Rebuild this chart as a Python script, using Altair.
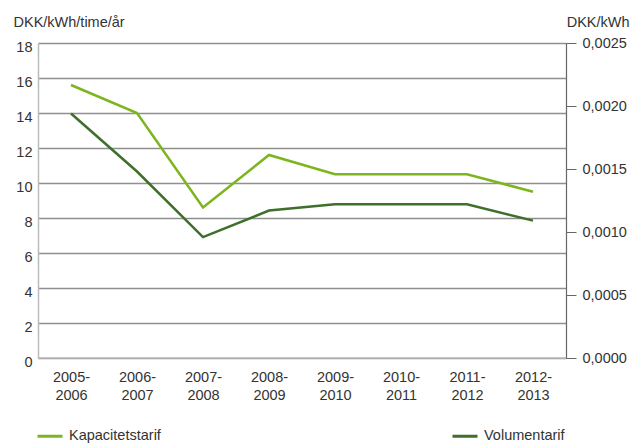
import altair as alt
import pandas as pd

periods = ["2005-2006", "2006-2007", "2007-2008", "2008-2009",
           "2009-2010", "2010-2011", "2011-2012", "2012-2013"]
kapacitet = [15.6, 14.0, 8.6, 11.6, 10.5, 10.5, 10.5, 9.5]
volumen = [0.00194, 0.00148, 0.00096, 0.00117, 0.00122, 0.00122, 0.00122, 0.00109]

series_names = ["Kapacitetstarif", "Volumentarif"]
series_colors = ["#7db51f", "#3e6f2b"]

df_k = pd.DataFrame({"periode": periods, "værdi": kapacitet, "serie": series_names[0]})
df_v = pd.DataFrame({"periode": periods, "værdi": volumen, "serie": series_names[1]})

FONT = "Liberation Sans"
FS = 14.5
TXT = "#333333"

x_enc = alt.X("periode:N", sort=periods, title=None,
              scale=alt.Scale(paddingInner=0, paddingOuter=0.5),
              axis=alt.Axis(labelAngle=0,
                            labelExpr="[split(datum.label, '-')[0] + '-', split(datum.label, '-')[1]]",
                            labelFontSize=FS, labelColor=TXT, labelFont=FONT,
                            labelPadding=12, labelLineHeight=18,
                            ticks=False, domain=False, grid=False))

color_enc = alt.Color("serie:N", scale=alt.Scale(domain=series_names, range=series_colors),
                      legend=alt.Legend(orient="none", legendX=-2, legendY=379,
                                        direction="horizontal", title=None,
                                        symbolType="stroke", symbolStrokeWidth=3,
                                        symbolSize=625, labelFontSize=FS, labelFont=FONT,
                                        labelColor=TXT, columnPadding=285,
                                        labelOffset=5, padding=0))

left = alt.Chart(df_k).mark_line(strokeWidth=2.5).encode(
    x=x_enc,
    y=alt.Y("værdi:Q", scale=alt.Scale(domain=[0, 18]),
            axis=alt.Axis(orient="left", values=list(range(0, 19, 2)),
                          title="DKK/kWh/time/år", titleAngle=0, titleX=-25, titleY=-21,
                          titleAlign="left", titleBaseline="middle",
                          titleFontWeight="normal", titleFontSize=FS,
                          titleFont=FONT, titleColor=TXT,
                          labelFontSize=FS, labelFont=FONT, labelColor=TXT,
                          labelPadding=6, labelOffset=4, ticks=False,
                          domainColor="#bbbbbb", domainWidth=1.5,
                          grid=True, gridColor="#8f8f8f", gridWidth=1.3)),
    color=color_enc,
)

right = alt.Chart(df_v).mark_line(strokeWidth=2.5).encode(
    x=x_enc,
    y=alt.Y("værdi:Q", scale=alt.Scale(domain=[0, 0.0025]),
            axis=alt.Axis(orient="right", values=[0, 0.0005, 0.001, 0.0015, 0.002, 0.0025],
                          labelExpr="replace(format(datum.value, '.4f'), '.', ',')",
                          title="DKK/kWh", titleAngle=0, titleX=63, titleY=-21,
                          titleAlign="right", titleBaseline="middle",
                          titleFontWeight="normal", titleFontSize=FS,
                          titleFont=FONT, titleColor=TXT,
                          labelFontSize=FS, labelFont=FONT, labelColor=TXT,
                          labelPadding=6, tickSize=10, tickColor="#666666",
                          domainColor="#666666", domainWidth=1.2, grid=False)),
    color=color_enc,
)

bottom_line = alt.Chart(pd.DataFrame({"v": [0]})).mark_rule(color="#bbbbbb", strokeWidth=1.5).encode(
    y=alt.value(315), x=alt.value(0), x2=alt.value(528)
)

chart = alt.layer(left, right, bottom_line).resolve_scale(y="independent").properties(
    width=528, height=315,
    padding={"left": 38, "top": 43, "right": 67, "bottom": 88},
    autosize=alt.AutoSizeParams(type="none"),
).configure_view(stroke=None).configure(background="white")

chart.save("out.html", embed_options={"renderer": "svg", "actions": False})
